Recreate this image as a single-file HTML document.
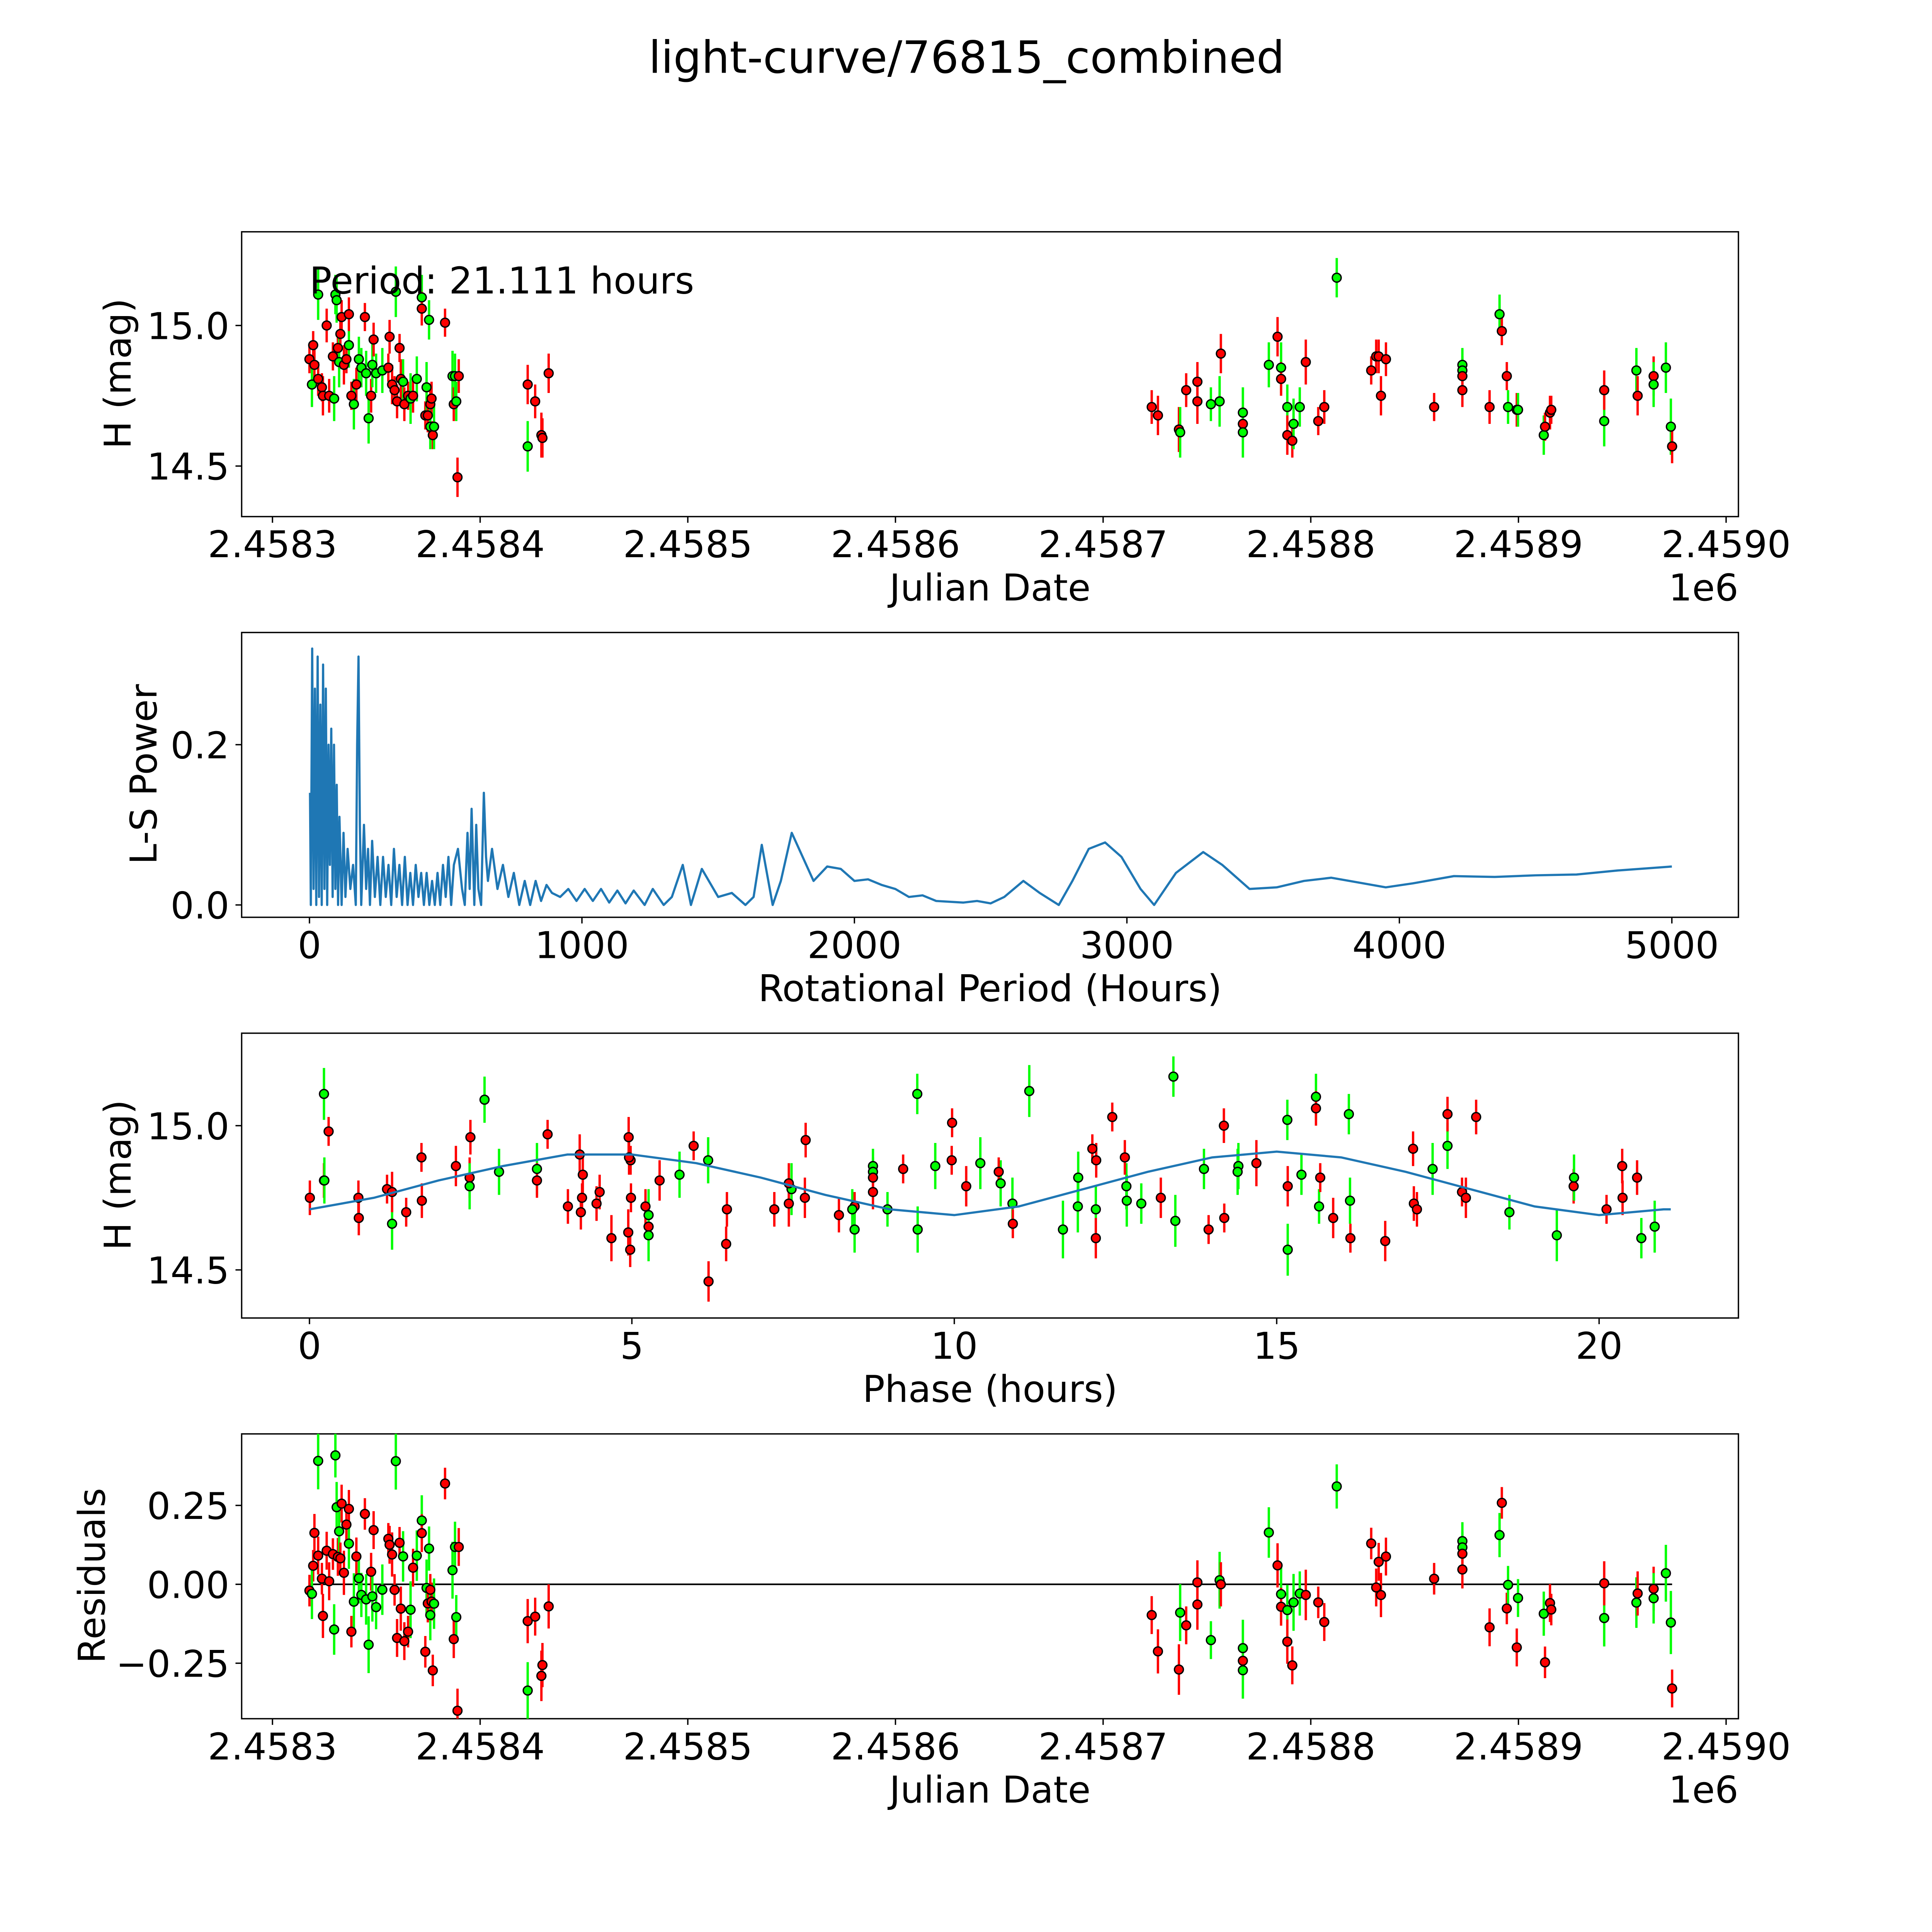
<!DOCTYPE html>
<html><head><meta charset="utf-8"><style>html,body{margin:0;padding:0;background:#fff;overflow:hidden;width:100vw;height:100vh}svg{display:block;width:100vw;height:100vh}text{font-family:"DejaVu Sans","Liberation Sans",sans-serif;fill:#000}</style></head>
<body>
<svg id="fig" xmlns="http://www.w3.org/2000/svg" viewBox="0 0 1567 1567" preserveAspectRatio="xMidYMid meet">
<rect width="1567" height="1567" fill="#fff"/>
<defs><clipPath id="clip4"><rect x="196" y="1163" width="1214" height="231"/></clipPath><clipPath id="clip3"><rect x="196" y="838" width="1214" height="231"/></clipPath></defs>
<text x="784" y="59" font-size="36" text-anchor="middle">light-curve/76815_combined</text>
<g id="root"></g>
</svg>
<script>
// ---- Data ----
const jdOffset = [17.8,19.6,20.2,19.0,22.0,22.0,23.8,24.3,26.1,27.3,29.1,29.7,30.3,30.9,31.5,32.1,32.7,33.3,34.4,35.6,
36.8,36.8,38.0,39.2,40.4,41.6,42.8,44.5,45.1,46.3,47.5,48.1,48.7,49.9,52.9,55.8,56.4,57.6,58.8,59.4,
60.0,61.2,61.8,62.9,63.5,65.3,66.5,67.7,69.5,71.9,71.9,73.6,74.2,74.8,75.4,76.0,76.0,76.6,77.2,77.8,
83.1,86.7,87.3,87.9,88.5,89.1,89.7,
122.9,122.9,126.5,129.5,130.0,133.0,
423.4,426.4,436.5,437.1,440.0,445.4,445.4,451.9,456.1,456.7,467.3,467.3,467.3,479.8,484.0,485.7,485.7,488.7,488.7,491.1,
491.7,494.7,497.6,503.6,506.5,512.5,529.1,531.5,532.7,533.8,536.2,559.4,573.0,573.0,573.0,573.0,586.1,590.9,592.0,594.4,
595.0,599.2,599.8,612.2,612.8,615.2,615.8,641.3,641.3,656.8,657.4,665.1,665.1,671.0,673.4,674.0];
const magH = [14.88,14.93,14.86,14.79,15.11,14.81,14.78,14.75,15.00,14.75,14.89,14.74,15.11,15.09,14.92,14.87,14.97,15.03,14.86,14.88,
14.93,15.04,14.75,14.72,14.79,14.88,14.85,15.03,14.83,14.67,14.75,14.86,14.95,14.83,14.84,14.85,14.96,14.79,14.77,15.12,
14.73,14.92,14.81,14.80,14.72,14.75,14.74,14.75,14.81,15.10,15.06,14.68,14.78,14.68,15.02,14.72,14.64,14.74,14.61,14.64,
15.01,14.82,14.72,14.82,14.73,14.46,14.82,
14.79,14.57,14.73,14.61,14.60,14.83,
14.71,14.68,14.63,14.62,14.77,14.80,14.73,14.72,14.73,14.90,14.69,14.65,14.62,14.86,14.96,14.85,14.81,14.71,14.61,14.59,
14.65,14.71,14.87,14.66,14.71,15.17,14.84,14.89,14.89,14.75,14.88,14.71,14.86,14.84,14.82,14.77,14.71,15.04,14.98,14.82,
14.71,14.70,14.70,14.61,14.64,14.69,14.70,14.66,14.77,14.84,14.75,14.82,14.79,14.85,14.64,14.57];
const magErr = [0.05,0.05,0.06,0.08,0.09,0.06,0.05,0.07,0.06,0.06,0.05,0.08,0.07,0.08,0.06,0.09,0.05,0.06,0.07,0.05,
0.08,0.06,0.05,0.09,0.06,0.08,0.07,0.05,0.08,0.09,0.06,0.08,0.06,0.07,0.08,0.05,0.06,0.07,0.05,0.09,
0.06,0.05,0.07,0.08,0.06,0.05,0.09,0.06,0.08,0.08,0.06,0.05,0.09,0.06,0.07,0.05,0.08,0.06,0.05,0.08,
0.05,0.09,0.06,0.08,0.07,0.07,0.06,
0.07,0.09,0.06,0.08,0.07,0.07,
0.06,0.07,0.08,0.09,0.06,0.07,0.08,0.06,0.09,0.07,0.09,0.06,0.09,0.08,0.07,0.09,0.06,0.08,0.07,0.06,
0.09,0.07,0.08,0.05,0.06,0.07,0.05,0.06,0.06,0.07,0.06,0.05,0.06,0.05,0.05,0.06,0.06,0.07,0.05,0.05,
0.06,0.06,0.06,0.07,0.05,0.06,0.05,0.09,0.07,0.08,0.07,0.07,0.08,0.09,0.10,0.06];
const band = ("rrrggrrrrrrgggrgrrrrgrrgrggrggrgrggrrrrgrrrgrrgrggrrgrgrgrrgrgrggrr"+"rgrrrr"+
"rrrgrrrggrgrggrgrgrrggrrrgrrrrrrggrrrgrrgrggrrrgrgrrgggr").split('');
const fitPhase = [0,1,2,3,4,5,6,7,8,9,10,11,12,13,14,15,16,17,18,19,20,21,21.111];
const fitMag = [14.71,14.75,14.81,14.86,14.90,14.90,14.87,14.82,14.76,14.71,14.69,14.72,14.78,14.84,14.89,14.91,14.89,14.84,14.78,14.72,14.69,14.71,14.71];
const lsPeriod = [2,5,10,15,20,25,30,35,40,45,50,55,60,65,70,75,80,85,90,95,100,105,110,118,125,132,140,150,160,170,175,180,185,190,200,208,215,222,230,240,250,260,270,280,290,300,310,320,330,340,350,360,370,380,390,400,410,420,430,440,450,460,470,480,490,500,510,520,530,545,560,570,580,588,595,605,612,620,630,640,648,655,670,690,710,730,750,770,790,810,830,850,870,890,920,950,980,1010,1040,1070,1100,1130,1160,1190,1230,1260,1300,1330,1370,1400,1440,1500,1550,1600,1630,1660,1700,1730,1770,1850,1900,1950,2000,2050,2100,2150,2200,2250,2300,2400,2450,2500,2550,2620,2680,2750,2800,2860,2920,2980,3050,3100,3180,3280,3350,3450,3550,3650,3750,3850,3950,4050,4200,4350,4500,4650,4800,5000];
const lsPower = [0.14,0.0,0.32,0.02,0.27,0.0,0.31,0.01,0.25,0.0,0.30,0.02,0.27,0.0,0.2,0.05,0.22,0.01,0.2,0.02,0.15,0.0,0.11,0.0,0.09,0.01,0.07,0.02,0.05,0.0,0.2,0.31,0.1,0.0,0.1,0.02,0.07,0.0,0.08,0.01,0.06,0.0,0.06,0.01,0.05,0.0,0.07,0.01,0.05,0.0,0.06,0.0,0.04,0.0,0.05,0.01,0.04,0.0,0.04,0.0,0.03,0.0,0.04,0.0,0.05,0.01,0.06,0.0,0.05,0.07,0.02,0.0,0.09,0.02,0.12,0.0,0.1,0.02,0.0,0.14,0.06,0.03,0.07,0.02,0.05,0.01,0.04,0.0,0.03,0.0,0.03,0.005,0.025,0.015,0.01,0.02,0.005,0.02,0.005,0.02,0.003,0.018,0.002,0.018,0.0,0.02,0.0,0.01,0.05,0.0,0.045,0.01,0.015,0.0,0.01,0.075,0.0,0.03,0.09,0.03,0.048,0.045,0.03,0.032,0.025,0.02,0.01,0.012,0.005,0.003,0.005,0.002,0.01,0.03,0.015,0.0,0.03,0.07,0.078,0.06,0.02,0.0,0.04,0.066,0.05,0.02,0.022,0.03,0.034,0.028,0.022,0.027,0.036,0.035,0.037,0.038,0.043,0.048];
const periodHours = 21.111;
const jdTicks = [0,100,200,300,400,500,600,700];
const jdTickLabels = ["2.4583","2.4584","2.4585","2.4586","2.4587","2.4588","2.4589","2.4590"];
const magTicks = [15.0,14.5];
const magTickLabels = ["15.0","14.5"];
const lsXTicks = [0,1000,2000,3000,4000,5000];
const lsXTickLabels = ["0","1000","2000","3000","4000","5000"];
const lsYTicks = [0.0,0.2];
const lsYTickLabels = ["0.0","0.2"];
const phTicks = [0,5,10,15,20];
const phTickLabels = ["0","5","10","15","20"];
const resTicks = [0.25,0,-0.25];
const resTickLabels = ["0.25","0.00","\u22120.25"];

// ---- Helpers ----
const NS='http://www.w3.org/2000/svg';
const root=document.getElementById('root');
const FS=30;
function mk(tag,attrs,parent){const e=document.createElementNS(NS,tag);for(const k in attrs)e.setAttribute(k,attrs[k]);(parent||root).appendChild(e);return e;}
function lin(d0,d1,r0,r1){return v=>r0+(v-d0)/(d1-d0)*(r1-r0);}
const L=196,R=1410;
const panels=[{t:188,b:419},{t:513,b:744},{t:838,b:1069},{t:1163,b:1394}];
const xJD=lin(0,700,221,1400);
const xLS=lin(0,5000,251,1356);
const xPH=lin(0,20,251,1297);
const y1=lin(15.0,14.5,264,378);
const y2=lin(0,0.2,734,604);
const y3=lin(15.0,14.5,913,1030);
const y4=lin(0,0.25,1285,1221);
function interp(xs,ys,v){for(let i=0;i<xs.length-1;i++){if(v<=xs[i+1]){const f=(v-xs[i])/(xs[i+1]-xs[i]);return ys[i]+f*(ys[i+1]-ys[i]);}}return ys[ys.length-1];}
function col(i){return band[i]==='g'?'#00ff00':'#ff0000';}

function frame(p,name){
  const g=mk('g',{});
  
  
  const r=mk('rect',{x:L,y:p.t,width:R-L,height:p.b-p.t,fill:'none',stroke:'#000','stroke-width':1.1},g);
  
  
  return g;
}
function xticks(g,p,ticks,labels,sx,axisName){
  ticks.forEach((t,i)=>{const x=sx(t);
    mk('line',{x1:x,x2:x,y1:p.b,y2:p.b+5,stroke:'#000','stroke-width':1.1},g);
    const tx=mk('text',{x:x,y:p.b+33,'font-size':FS,'text-anchor':'middle'},g);tx.textContent=labels[i];
    
    
  });
}
function yticks(g,p,ticks,labels,sy,axisName){
  ticks.forEach((t,i)=>{const y=sy(t);
    mk('line',{x1:L-5,x2:L,y1:y,y2:y,stroke:'#000','stroke-width':1.1},g);
    const tx=mk('text',{x:L-10,y:y+11,'font-size':FS,'text-anchor':'end'},g);tx.textContent=labels[i];
    
    
  });
}
function label(g,txt,x,y,rot,name){
  const t=mk('text',{x:x,y:y,'font-size':FS,'text-anchor':'middle',transform:rot?`rotate(-90 ${x} ${y})`:''},g);
  t.textContent=txt;
  
  
}
function points(g,xs,ys,errs,sx,sy,name){
  xs.forEach((xv,i)=>{
    const x=sx(xv),y=sy(ys[i]),e=Math.abs(sy(ys[i]+errs[i])-y);
    const ln=mk('line',{x1:x,x2:x,y1:y-e,y2:y+e,stroke:col(i),'stroke-width':1.9},g);
    
    
  });
  xs.forEach((xv,i)=>{
    const c=mk('circle',{cx:sx(xv),cy:sy(ys[i]),r:3.6,fill:col(i),stroke:'#000','stroke-width':1.1},g);
    
    
  });
}

// Panel 1
let p=panels[0],g=frame(p,'light-curve-panel');
points(g,jdOffset,magH,magErr,xJD,y1,'magnitude');
xticks(g,p,jdTicks,jdTickLabels,xJD,'x-axis');
yticks(g,p,magTicks,magTickLabels,y1,'y-axis');
label(g,'Julian Date',803,487,false,'x-axis-title');
label(g,'H (mag)',106,303,true,'y-axis-title');
let t=mk('text',{x:R,y:487,'font-size':FS,'text-anchor':'end'},g);t.textContent='1e6';


t=mk('text',{x:251,y:238,'font-size':FS},g);t.textContent='Period: '+periodHours.toFixed(3)+' hours';



// Panel 2
p=panels[1];g=frame(p,'periodogram-panel');
let pts=lsPeriod.map((v,i)=>xLS(v).toFixed(2)+','+y2(lsPower[i]).toFixed(2)).join(' ');
let pl=mk('polyline',{points:pts,fill:'none',stroke:'#1f77b4','stroke-width':1.8,'stroke-linejoin':'round'},g);


xticks(g,p,lsXTicks,lsXTickLabels,xLS,'x-axis');
yticks(g,p,lsYTicks,lsYTickLabels,y2,'y-axis');
label(g,'Rotational Period (Hours)',803,812,false,'x-axis-title');
label(g,'L-S Power',127,628,true,'y-axis-title');

// Panel 3
p=panels[2];g=frame(p,'phase-panel');
const g3=mk('g',{'clip-path':'url(#clip3)'},g);
const phase=jdOffset.map(d=>(d*24)%periodHours);
pts=fitPhase.map((v,i)=>xPH(v).toFixed(2)+','+y3(fitMag[i]).toFixed(2)).join(' ');
points(g3,phase,magH,magErr,xPH,y3,'phased');
pl=mk('polyline',{points:pts,fill:'none',stroke:'#1f77b4','stroke-width':1.8},g3);


xticks(g,p,phTicks,phTickLabels,xPH,'x-axis');
yticks(g,p,magTicks,magTickLabels,y3,'y-axis');
label(g,'Phase (hours)',803,1137,false,'x-axis-title');
label(g,'H (mag)',106,953,true,'y-axis-title');

// Panel 4
p=panels[3];g=frame(p,'residuals-panel');
const g4=mk('g',{'clip-path':'url(#clip4)'},g);
const resid=magH.map((m,i)=>m-interp(fitPhase,fitMag,phase[i]));
const zl=mk('line',{x1:xJD(Math.min(...jdOffset)),x2:xJD(Math.max(...jdOffset)),y1:y4(0),y2:y4(0),stroke:'#000','stroke-width':1.3},g4);


points(g4,jdOffset,resid,magErr,xJD,y4,'residual');
xticks(g,p,jdTicks,jdTickLabels,xJD,'x-axis');
yticks(g,p,resTicks,resTickLabels,y4,'y-axis');
label(g,'Julian Date',803,1462,false,'x-axis-title');
label(g,'Residuals',85,1278,true,'y-axis-title');
t=mk('text',{x:R,y:1462,'font-size':FS,'text-anchor':'end'},g);t.textContent='1e6';


</script>
</body></html>
